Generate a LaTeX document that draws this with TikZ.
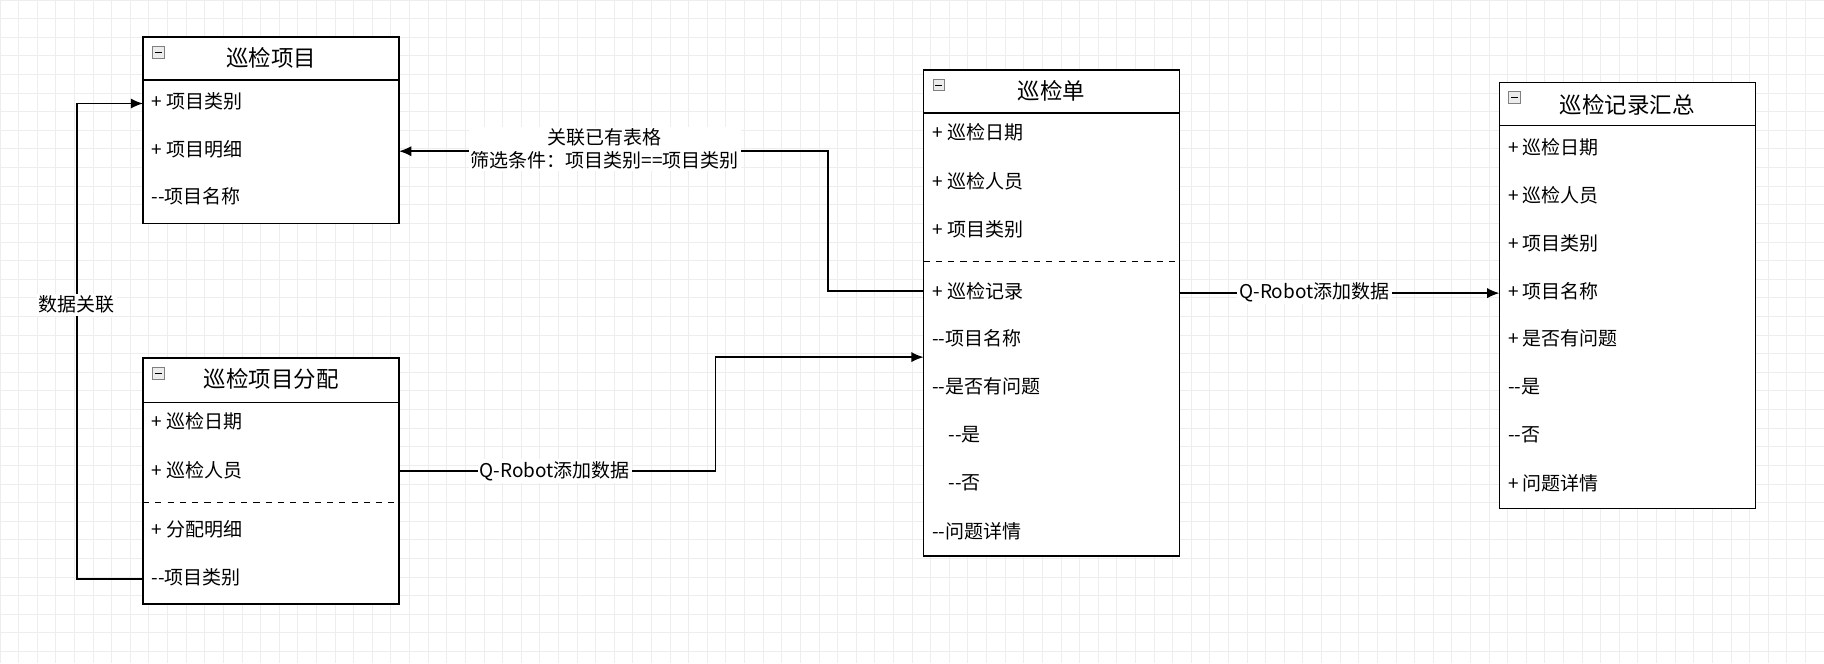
\documentclass[tikz,border=0pt]{standalone}
\usepackage{fontspec}
\setmainfont{Noto Sans CJK SC}
\usetikzlibrary{positioning,arrows.meta}
\tikzset{
  box/.style={draw, thick, fill=white},
  title/.style={font=\fontsize{11}{13}\selectfont},
  row/.style={anchor=west, font=\fontsize{9.3}{11}\selectfont, inner sep=0pt},
  conn/.style={thick, -{Latex[length=6pt,width=5pt]}},
  lbl/.style={fill=white, inner sep=1pt, font=\fontsize{9.3}{11}\selectfont, align=center}
}
\newcommand{\minusicon}[2]{\draw[gray, fill=gray!15] (#1+5,#2+5) rectangle (#1+15,#2+15);
  \draw (#1+7,#2+10) -- (#1+13,#2+10);}
\newcommand{\dd}{{-}{-}}
\begin{document}
\begin{tikzpicture}[x=0.02cm, y=-0.02cm]
\useasboundingbox (0,0) rectangle (1568,570);
\foreach \gx in {0,16,...,1568} \draw[black!7] (\gx,0) -- (\gx,570);
\foreach \gy in {0,16,...,570} \draw[black!7] (0,\gy) -- (1568,\gy);
% 巡检项目
\draw[box] (123,32) rectangle (343,192);
\draw[thick] (123,69) -- (343,69);
\minusicon{126}{35}
\node[title] (xm) at (233,50) {巡检项目};
\node[row] (xm1) at (130,87) {+ 项目类别};
\node[row] (xm2) at (130,128) {+ 项目明细};
\node[row] (xm3) at (130,169) {\dd 项目名称};
% 巡检项目分配
\draw[box] (123,308) rectangle (343,519);
\draw[thick] (123,346) -- (343,346);
\draw[dashed] (123,432) -- (343,432);
\minusicon{126}{311}
\node[title] (fp) at (233,326) {巡检项目分配};
\node[row] (fp1) at (130,362) {+ 巡检日期};
\node[row] (fp2) at (130,404) {+ 巡检人员};
\node[row] (fp3) at (130,455) {+ 分配明细};
\node[row] (fp4) at (130,496) {\dd 项目类别};
% 巡检单
\draw[box] (794,60) rectangle (1014,478);
\draw[thick] (794,97) -- (1014,97);
\draw[dashed] (794,225) -- (1014,225);
\minusicon{797}{63}
\node[title] (xd) at (904,78) {巡检单};
\node[row] (xd1) at (801,114) {+ 巡检日期};
\node[row] (xd2) at (801,156) {+ 巡检人员};
\node[row] (xd3) at (801,197) {+ 项目类别};
\node[row] (xd4) at (801,250) {+ 巡检记录};
\node[row] (xd5) at (801,291) {\dd 项目名称};
\node[row] (xd6) at (801,332) {\dd 是否有问题};
\node[row] (xd7) at (815,374) {\dd 是};
\node[row] (xd8) at (815,415) {\dd 否};
\node[row] (xd9) at (801,457) {\dd 问题详情};
% 巡检记录汇总
\draw[box] (1289,71) rectangle (1509,437);
\draw[thick] (1289,108) -- (1509,108);
\minusicon{1292}{74}
\node[title] (hz) at (1399,90) {巡检记录汇总};
\node[row] (hz1) at (1296,127) {+ 巡检日期};
\node[row] (hz2) at (1296,168) {+ 巡检人员};
\node[row] (hz3) at (1296,209) {+ 项目类别};
\node[row] (hz4) at (1296,250) {+ 项目名称};
\node[row] (hz5) at (1296,291) {+ 是否有问题};
\node[row] (hz6) at (1296,332) {\dd 是};
\node[row] (hz7) at (1296,374) {\dd 否};
\node[row] (hz8) at (1296,415) {+ 问题详情};
% connectors
\coordinate (cL) at (794,250);
\coordinate (aR) at (343,130);
\draw[conn] (cL) -| (712,130) -- (aR);
\node[lbl] (l1) at (520,128) {关联已有表格\\筛选条件：项目类别==项目类别};
\coordinate (bL) at (123,498);
\coordinate (aL) at (123,89);
\draw[conn] (bL) -- (66,498) -- (66,89) -- (aL);
\node[lbl] (l2) at (66,262) {数据关联};
\coordinate (bR) at (343,405);
\coordinate (cIn) at (794,307);
\draw[conn] (bR) -- (615,405) |- (cIn);
\node[lbl] (l3) at (477,405) {Q-Robot添加数据};
\coordinate (cR) at (1014,252);
\coordinate (dL) at (1289,252);
\draw[conn] (cR) -- (dL);
\node[lbl] (l4) at (1130,251) {Q-Robot添加数据};
\end{tikzpicture}
\end{document}
